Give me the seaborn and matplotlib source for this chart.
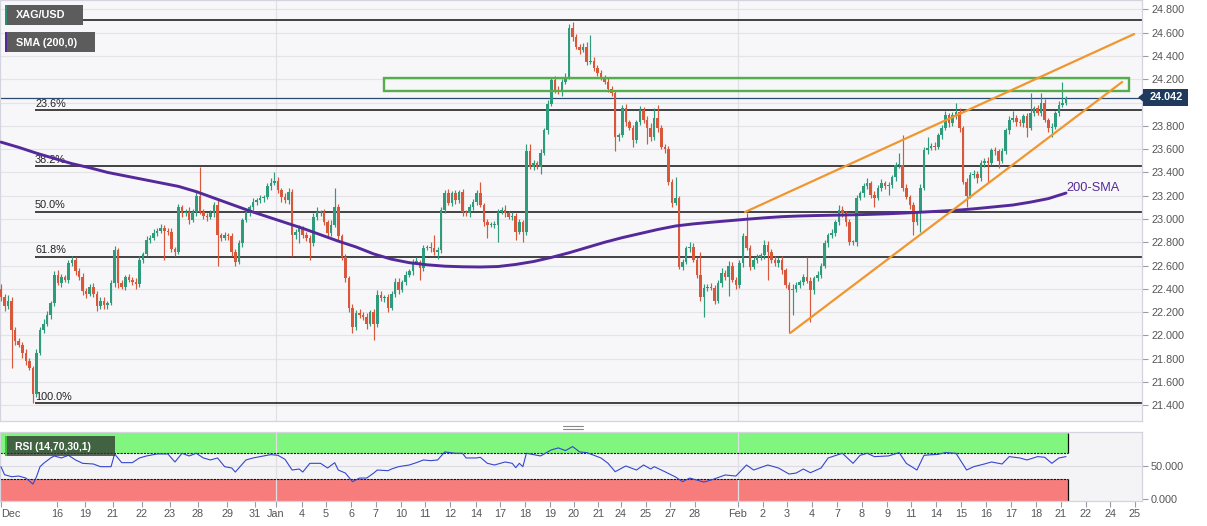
import numpy as np
import pandas as pd
import matplotlib
matplotlib.use("Agg")
import matplotlib.pyplot as plt
import seaborn as sns
from matplotlib.patches import Rectangle, Polygon
from matplotlib.lines import Line2D

# ---------------- data ----------------
open0 = 22.40
closes = [
    22.33, 22.25, 22.30, 22.05, 21.95, 21.92, 21.85, 21.78, 21.72, 21.50,
    21.85, 22.05, 22.10, 22.18, 22.28, 22.52, 22.45, 22.50, 22.48, 22.62,
    22.65, 22.55, 22.50, 22.38, 22.36, 22.42, 22.36, 22.25, 22.30, 22.26,
    22.28, 22.45, 22.73, 22.45, 22.42, 22.50, 22.48, 22.46, 22.44, 22.65,
    22.70, 22.82, 22.84, 22.88, 22.90, 22.92, 22.90, 22.89, 22.74, 22.72,
    23.10, 23.05, 23.06, 22.99, 23.06, 23.20, 23.06, 23.03, 23.02, 23.05,
    23.12, 22.86, 22.84, 22.86, 22.85, 22.72, 22.63, 22.79, 22.99, 23.06,
    23.10, 23.15, 23.16, 23.18, 23.19, 23.28, 23.31, 23.33, 23.25, 23.19,
    23.16, 23.23, 22.86, 22.89, 22.92, 22.86, 22.84, 22.79, 23.02, 23.06,
    23.06, 22.97, 22.88, 22.95, 23.10, 22.85, 22.67, 22.49, 22.24, 22.07,
    22.19, 22.18, 22.16, 22.10, 22.20, 22.10, 22.35, 22.32, 22.33, 22.24,
    22.36, 22.46, 22.39, 22.46, 22.52, 22.55, 22.63, 22.63, 22.58, 22.75,
    22.76, 22.75, 22.72, 22.73, 23.08, 23.22, 23.14, 23.22, 23.16, 23.23,
    23.06, 23.05, 23.10, 23.15, 23.22, 23.12, 22.97, 22.95, 22.95, 22.95,
    23.06, 23.08, 23.05, 23.02, 23.03, 22.89, 22.97, 22.89, 23.58, 23.45,
    23.48, 23.45, 23.57, 23.76, 23.99, 24.19, 24.11, 24.09, 24.18, 24.22,
    24.64, 24.56, 24.48, 24.45, 24.48, 24.35, 24.36, 24.30, 24.25, 24.22,
    24.18, 24.12, 24.08, 23.70, 23.72, 23.95, 23.83, 23.78, 23.68, 23.83,
    23.94, 23.85, 23.78, 23.70, 23.87, 23.78, 23.62, 23.60, 23.32, 23.14,
    23.18, 22.59, 22.63, 22.75, 22.76, 22.65, 22.52, 22.33, 22.41, 22.42,
    22.41, 22.30, 22.45, 22.54, 22.50, 22.60, 22.48, 22.43, 22.62, 22.85,
    22.75, 22.59, 22.65, 22.67, 22.69, 22.78, 22.72, 22.65, 22.62, 22.65,
    22.56, 22.43, 22.39, 22.40, 22.43, 22.46, 22.50, 22.47, 22.39, 22.49,
    22.52, 22.60, 22.79, 22.86, 22.88, 22.97, 23.08, 23.05, 22.97, 22.80,
    22.80, 23.18, 23.22, 23.28, 23.31, 23.21, 23.18, 23.27, 23.31, 23.28,
    23.29, 23.36, 23.46, 23.46, 23.27, 23.19, 23.12, 22.97, 23.05, 23.27,
    23.59, 23.61, 23.63, 23.62, 23.72, 23.78, 23.89, 23.82, 23.89, 23.92,
    23.78, 23.32, 23.20, 23.38, 23.39, 23.35, 23.48, 23.50, 23.48, 23.59,
    23.58, 23.50, 23.58, 23.76, 23.85, 23.87, 23.83, 23.82, 23.88, 23.78,
    23.91, 23.95, 23.91, 24.00, 23.85, 23.78, 23.79, 23.91, 23.98, 24.00,
    24.04]
# upper / lower wick lengths (price units) beyond the candle body
wick_up = [
    .04,.03,.05,.03,.02,.03,.02,.03,.03,.02, .03,.02,.04,.03,.02,.03,.04,.03,.02,.03,
    .03,.02,.03,.04,.03,.02,.03,.02,.03,.03, .02,.03,.04,.02,.03,.02,.03,.02,.03,.03,
    .02,.03,.02,.03,.02,.04,.03,.02,.03,.02, .03,.02,.03,.04,.03,.04,.25,.03,.02,.03,
    .03,.04,.02,.03,.02,.03,.02,.03,.02,.03, .02,.03,.02,.03,.02,.03,.04,.07,.03,.02,
    .03,.04,.03,.02,.03,.02,.03,.02,.03,.04, .02,.03,.02,.04,.17,.03,.02,.03,.02,.03,
    .03,.04,.02,.03,.02,.03,.04,.03,.02,.03, .02,.03,.03,.02,.03,.02,.03,.04,.02,.03,
    .02,.04,.11,.03,.02,.03,.04,.02,.03,.02, .03,.02,.03,.02,.03,.10,.02,.03,.02,.03,
    .03,.02,.04,.02,.03,.02,.03,.02,.06,.06, .03,.02,.03,.02,.03,.02,.04,.03,.02,.03,
    .03,.05,.03,.02,.03,.04,.22,.03,.02,.03, .02,.03,.02,.03,.02,.03,.04,.02,.03,.02,
    .03,.02,.03,.04,.08,.11,.03,.02,.03,.02, .18,.02,.03,.02,.04,.03,.02,.20,.03,.02,
    .03,.02,.03,.04,.02,.04,.03,.02,.03,.03, .20,.03,.02,.03,.02,.04,.03,.02,.03,.02,
    .03,.02,.03,.04,.03,.02,.03,.17,.03,.02, .03,.02,.03,.02,.03,.02,.04,.03,.02,.03,
    .02,.03,.02,.03,.04,.02,.03,.02,.03,.02, .03,.02,.03,.11,.26,.03,.02,.03,.02,.03,
    .03,.09,.02,.03,.02,.03,.04,.02,.03,.08, .03,.02,.03,.02,.03,.02,.03,.02,.03,.02,
    .03,.02,.03,.02,.03,.06,.02,.03,.02,.03, .17,.02,.03,.08,.03,.02,.03,.02,.03,.18,
    .02]
wick_dn = [
    .03,.04,.02,.33,.03,.02,.04,.03,.02,.08, .03,.02,.03,.02,.04,.03,.02,.03,.02,.03,
    .02,.03,.02,.03,.04,.02,.03,.04,.02,.03, .03,.02,.03,.04,.02,.03,.02,.03,.04,.02,
    .03,.02,.03,.02,.03,.02,.25,.03,.02,.04, .02,.03,.02,.03,.02,.03,.02,.03,.04,.02,
    .03,.26,.03,.02,.03,.04,.03,.02,.03,.02, .03,.02,.03,.02,.03,.02,.03,.02,.03,.04,
    .02,.03,.18,.03,.10,.02,.03,.14,.02,.03, .03,.02,.04,.03,.02,.03,.02,.03,.04,.05,
    .02,.03,.03,.04,.02,.14,.03,.02,.03,.04, .02,.03,.03,.02,.03,.02,.03,.02,.10,.03,
    .02,.03,.03,.06,.02,.03,.02,.03,.03,.02, .03,.02,.03,.02,.03,.02,.03,.11,.02,.03,
    .15,.02,.03,.02,.03,.07,.02,.09,.03,.02, .03,.02,.06,.02,.03,.02,.03,.02,.03,.02,
    .02,.03,.02,.03,.02,.03,.02,.03,.02,.03, .02,.03,.02,.12,.03,.02,.03,.02,.06,.03,
    .02,.03,.14,.03,.02,.03,.02,.03,.03,.04, .02,.02,.03,.02,.03,.02,.03,.03,.17,.03,
    .02,.03,.02,.03,.02,.16,.02,.03,.02,.03, .02,.03,.02,.03,.02,.03,.24,.03,.02,.03,
    .03,.02,.37,.21,.03,.02,.03,.02,.27,.03, .02,.03,.02,.03,.02,.03,.02,.03,.03,.02,
    .02,.03,.02,.03,.02,.03,.08,.02,.03,.02, .07,.02,.03,.02,.03,.02,.03,.11,.02,.16,
    .02,.03,.02,.03,.02,.03,.02,.03,.02,.03, .03,.02,.10,.02,.03,.04,.02,.03,.16,.02,
    .03,.06,.02,.02,.03,.02,.03,.02,.03,.08, .02,.03,.02,.03,.02,.03,.08,.02,.03,.02,
    .02]

sma_bar = list(range(0, 301, 5))
sma_val = [23.66, 23.615, 23.565, 23.52, 23.475, 23.44, 23.40, 23.37, 23.34, 23.31,
           23.28, 23.235, 23.18, 23.125, 23.07, 23.02, 22.97, 22.92, 22.865, 22.81,
           22.76, 22.70, 22.655, 22.625, 22.607, 22.595, 22.59, 22.588, 22.592, 22.61,
           22.635, 22.67, 22.71, 22.755, 22.80, 22.84, 22.875, 22.91, 22.94, 22.958,
           22.972, 22.985, 22.998, 23.01, 23.02, 23.026, 23.03, 23.033, 23.036, 23.04,
           23.045, 23.052, 23.06, 23.068, 23.077, 23.09, 23.105, 23.12, 23.145, 23.175,
           23.223]

rsi_bar = [0, 1, 3, 5, 7, 9, 10, 11, 12, 14, 15, 17, 19, 21, 23, 26, 28, 31, 32, 34,
           37, 39, 41, 44, 47, 49, 51, 53, 55, 57, 59, 61, 63, 65, 66, 69, 71, 73, 76, 78,
           80, 82, 84, 85, 87, 90, 92, 94, 95, 97, 99, 101, 103, 105, 106, 109, 110, 112, 115, 117,
           119, 121, 123, 125, 128, 130, 131, 134, 135, 137, 139, 142, 144, 145, 146, 147, 148, 152, 155, 157,
           159, 161, 163, 165, 167, 169, 171, 173, 176, 179, 181, 183, 184, 187, 190, 192, 194, 198, 200, 204,
           207, 210, 212, 216, 219, 222, 224, 226, 228, 231, 233, 237, 240, 242, 244, 246, 250, 253, 255, 258,
           260, 264, 266, 269, 272, 274, 277, 279, 282, 284, 287, 289, 292, 294, 296, 298, 300]
rsi_val = [49, 37, 34, 35, 32, 23, 34, 49, 54, 62, 65, 62, 66, 59, 54, 53, 49, 49, 68, 55,
           55, 62, 65, 68, 68, 56, 69, 65, 69, 62, 59, 62, 49, 47, 41, 59, 62, 64, 67, 66,
           60, 44, 45.5, 41, 54, 54, 47, 55, 44, 39.5, 26.6, 32, 32, 39.5, 44, 43, 45.5, 49, 51.5, 55,
           59, 58, 59, 71, 69, 69, 62, 62, 63, 54, 51.5, 56, 54, 47.5, 54, 49, 69, 65, 74, 77,
           73, 79, 71, 70, 66, 62, 54, 41.5, 50, 44, 51.5, 45.5, 49, 41.5, 33.6, 26.6, 32, 26, 29, 36.6,
           35, 51.5, 44, 51.5, 47, 38, 39.5, 45.5, 40, 47, 62, 69, 54, 66, 69, 64, 65, 70, 54, 44,
           66, 67.5, 70, 69, 44, 49, 53, 56, 53, 64, 62, 59, 64, 63, 54, 62, 64]

fib_levels = [24.708, 23.932, 23.452, 23.064, 22.676, 21.42]
fib_labels = ["0.0%", "23.6%", "38.2%", "50.0%", "61.8%", "100.0%"]

last_price = 24.042
zone_lo, zone_hi = 24.10, 24.21
zone_bars = [107.9, 317.7]
upper_tl_bar = [209.6, 319.2]
upper_tl_px = [23.06, 24.588]
lower_tl_bar = [222.3, 315.8]
lower_tl_px = [22.021, 24.176]

tick_bars = [0, 15.8, 23.7, 31.5, 39.7, 47.6, 55.5, 63.7, 71.5, 77.5, 84.8, 91.5, 98.6, 105.6,
             112.7, 119.4, 126.5, 133.8, 140.6, 147.6, 154.6, 161.4, 168.2, 174.6, 181.7,
             188.5, 195.5, 207.6, 214.6, 221.4, 228.5, 235.5, 242.5, 249.6, 256.3, 263.4,
             270.4, 277.5, 284.5, 291.5, 298.6, 305.6, 312.4, 319.4]
tick_labels = ["Dec", "16", "19", "21", "22", "23", "28", "29", "31", "Jan", "4", "5", "6", "7",
               "10", "11", "12", "14", "17", "18", "19", "20", "21", "24", "25", "27", "28",
               "Feb", "2", "3", "4", "7", "8", "9", "11", "14", "15", "16", "17", "18", "21",
               "22", "24", "25"]
month_bars = [77.5, 207.6]

# ---------------- style ----------------
sns.set_theme(style="white")
plt.rcParams['font.family'] = ['Liberation Sans', 'DejaVu Sans']

GREEN = "#2e9c7c"
RED = "#d9573b"
PURPLE = "#55299a"
ORANGE = "#f0962e"
BG = "#f7f7f9"
GRID = "#e3e3e8"
TXT = "#555555"

W, H = 1207, 526
fig = plt.figure(figsize=(W / 100, H / 100), dpi=100)
fig.patch.set_facecolor("white")

def fy(py):
    return 1 - py / H

ax = fig.add_axes([0, fy(421), 1142 / W, 421 / H])
axr = fig.add_axes([0, fy(500.5), 1142 / W, 69 / H], sharex=ax)

df = pd.DataFrame({"close": closes, "up": wick_up, "dn": wick_dn})
df["bar"] = np.arange(len(df))
df["open"] = np.r_[open0, df["close"].values[:-1]]
df["high"] = np.maximum(df["open"], df["close"]) + df["up"]
df["low"] = np.minimum(df["open"], df["close"]) - df["dn"]
rising = df["close"] >= df["open"]
cols = np.where(rising, GREEN, RED)

# ---------------- main panel ----------------
ax.set_facecolor(BG)
ax.set_xlim(-0.28, 321.4)
ax.set_ylim(21.266, 24.880)
yt = np.round(np.arange(21.4, 24.81, 0.2), 1)
ax.set_yticks(yt)
# the 24.000 label sits under the last-price tag in the reference
ax.set_yticklabels(["" if abs(v - 24.0) < 1e-6 else f"{v:.3f}" for v in yt])
ax.yaxis.tick_right()
ax.tick_params(axis="y", length=4, width=0.8, color="#9a9aa8", labelsize=7.8,
               labelcolor=TXT, pad=2.5, right=True, left=False)
ax.tick_params(axis="x", bottom=False, labelbottom=False)
for yv in yt:
    ax.axhline(yv, color=GRID, lw=0.8, zorder=0)
for mb in month_bars:
    ax.axvline(mb, color="#e0e0e6", lw=0.9, zorder=0)
for s in ax.spines.values():
    s.set_color("#d4d4de")
    s.set_linewidth(0.9)

# fib lines + labels
for lvl, lab in zip(fib_levels, fib_labels):
    ax.hlines(lvl, 9.6, 321.4, color="#111111", lw=1.1, zorder=2)
    ax.annotate(lab, (9.6, lvl), xytext=(0, 1.0), textcoords="offset points",
                ha="left", va="bottom", fontsize=7.8, color="#222222", zorder=2)

ax.axhline(last_price, color="#2c4a6e", lw=0.9, zorder=2)

# candles
ax.vlines(df["bar"], df["low"], df["high"], colors=cols, lw=0.85, zorder=3)
ax.bar(df["bar"], np.maximum((df["close"] - df["open"]).abs(), 0.008),
       bottom=np.minimum(df["open"], df["close"]), width=0.72, color=cols,
       linewidth=0, zorder=4)

# SMA
sns.lineplot(x=sma_bar, y=sma_val, ax=ax, color=PURPLE, lw=2.1, zorder=5)
ax.text(300, 23.27, "200-SMA", color=PURPLE, fontsize=9.2, ha="left", va="center", zorder=6)

# resistance zone and trend lines
ax.add_patch(Rectangle((zone_bars[0], zone_lo), zone_bars[1] - zone_bars[0], zone_hi - zone_lo,
                       fill=False, edgecolor="#56ad4c", lw=1.7, zorder=6))
ax.plot(upper_tl_bar, upper_tl_px, color=ORANGE, lw=1.6, zorder=6)
ax.plot(lower_tl_bar, lower_tl_px, color=ORANGE, lw=1.6, zorder=6)

# ---------------- RSI panel ----------------
axr.set_facecolor("#f4f4f6")
axr.set_ylim(-1.5, 101.5)
axr.add_patch(Rectangle((-0.28, 70), 300.5 + 0.28, 30, color="#80f67e", lw=0, zorder=1))
axr.add_patch(Rectangle((-0.28, -1.5), 300.5 + 0.28, 31.5, color="#f77d7d", lw=0, zorder=1))
axr.axhline(50, color="#dcdce2", lw=0.8, zorder=0)
for lv in (70, 30):
    axr.hlines(lv, -0.28, 300.5, color="#111111", lw=0.8, linestyles=(0, (2, 1)), zorder=2)
axr.vlines([300.5, 300.5], [70, -1.5], [100, 30], color="#111111", lw=0.9, zorder=2)
for mb in month_bars:
    axr.axvline(mb, color="#dedee4", lw=0.9, zorder=1.5)
sns.lineplot(x=rsi_bar, y=rsi_val, ax=axr, color="#3447cf", lw=0.8, zorder=3)
axr.yaxis.tick_right()
axr.set_yticks([0, 50])
axr.set_yticklabels(["0.000", "50.000"])
axr.tick_params(axis="y", length=4, width=0.8, color="#9a9aa8", labelsize=7.8,
                labelcolor=TXT, pad=2.5, right=True, left=False)
axr.set_xticks(tick_bars)
axr.set_xticklabels(tick_labels)
axr.tick_params(axis="x", length=4, width=0.8, color="#9a9aa8", labelsize=7.8,
                labelcolor=TXT, pad=2, bottom=True)
axr.get_xticklabels()[0].set_ha("left")
for s in axr.spines.values():
    s.set_color("#d4d4de")
    s.set_linewidth(0.9)
axr.set_xlabel("")
axr.set_ylabel("")
ax.set_xlabel("")
ax.set_ylabel("")

# ---------------- overlay labels ----------------
def fig_rect(x0, y0, x1, y1, **kw):
    fig.add_artist(Rectangle((x0 / W, fy(y1)), (x1 - x0) / W, (y1 - y0) / H,
                             transform=fig.transFigure, **kw))

fig_rect(5, 5, 83, 25, color="#5c5c5c", lw=0, zorder=20)
fig_rect(5, 5, 7, 25, color="#2e8b74", lw=0, zorder=21)
fig.text(16 / W, fy(15.5), "XAG/USD", color="white", fontsize=7.8, fontweight="bold",
         ha="left", va="center", zorder=22)
fig_rect(5, 32, 95, 52, color="#5c5c5c", lw=0, zorder=20)
fig_rect(5, 32, 7, 52, color="#55299a", lw=0, zorder=21)
fig.text(16 / W, fy(42.5), "SMA (200,0)", color="white", fontsize=7.8, fontweight="bold",
         ha="left", va="center", zorder=22)
fig_rect(5, 436, 115, 456, color="#303a30", alpha=0.78, lw=0, zorder=20)
fig_rect(5, 436, 7, 456, color="#3fbf3f", lw=0, zorder=21)
fig.text(15 / W, fy(446.5), "RSI (14,70,30,1)", color="white", fontsize=7.5, fontweight="bold",
         ha="left", va="center", zorder=22)

# last price tag
fig_rect(1143, 89, 1188, 106, color="#1f3a5c", lw=0, zorder=20)
fig.add_artist(Polygon([(1139 / W, fy(97.5)), (1143.5 / W, fy(94)), (1143.5 / W, fy(101))],
                       closed=True, transform=fig.transFigure, color="#1f3a5c", zorder=20))
fig.text(1166 / W, fy(97.5), f"{last_price:.3f}", color="white", fontsize=7.8,
         fontweight="bold", ha="center", va="center", zorder=22)

# panel separator handle
for yy in (425.5, 428.5):
    fig.add_artist(Line2D([563 / W, 583 / W], [fy(yy), fy(yy)], transform=fig.transFigure,
                          color="#8a8a8a", lw=0.8))

fig.savefig("out.png", dpi=100, facecolor="white")
